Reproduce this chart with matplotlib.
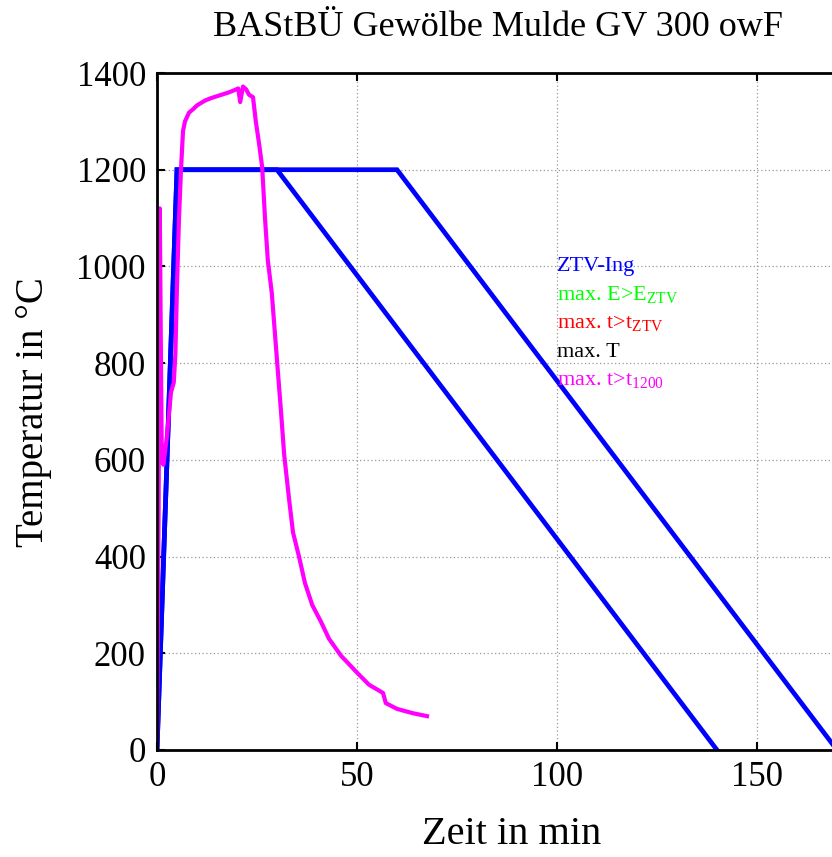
import matplotlib
matplotlib.use('Agg')
import matplotlib.pyplot as plt

plt.rcParams['font.family'] = ['Liberation Serif', 'DejaVu Serif']
plt.rcParams['mathtext.fontset'] = 'custom'
plt.rcParams['mathtext.rm'] = 'Liberation Serif'

# ZTV-Ing fire curves (two hold times)
ztv_short_t = [0, 5, 30, 140]
ztv_short_T = [0, 1200, 1200, 0]
ztv_long_t = [0, 5, 60, 170]
ztv_long_T = [0, 1200, 1200, 0]

# measured max. t>t1200 curve
meas_t = [0.0, 0.4, 0.7, 0.9, 1.2, 1.6, 2.5, 3.5, 4.2, 4.6, 5.0, 5.5, 6.0, 6.5,
          7.0, 8.0, 9.0, 10.0, 11.0, 12.0, 13.5, 15.0, 16.5, 18.0, 19.5, 20.3,
          20.8, 21.5, 22.3, 23.0, 24.0, 24.7, 25.5, 26.3, 27.0, 27.7, 28.7,
          30.0, 31.0, 31.8, 33.0, 34.0, 35.5, 37.0, 38.8, 41.0, 43.0, 46.0,
          50.0, 53.0, 56.5, 57.2, 60.0, 64.0, 67.5]
meas_T = [20, 500, 1120, 900, 600, 590, 650, 740, 760, 820, 960, 1100, 1200, 1280,
          1300, 1318, 1325, 1333, 1338, 1343, 1348, 1352, 1356, 1360, 1365, 1368,
          1340, 1372, 1366, 1355, 1350, 1300, 1255, 1205, 1100, 1013, 945,
          806, 700, 610, 520, 450, 400, 345, 300, 265, 230, 195,
          160, 135, 118, 97, 85, 76, 70]

legend_labels = ['ZTV-Ing', 'max. E>E$_{\\mathrm{ZTV}}$', 'max. t>t$_{\\mathrm{ZTV}}$',
                 'max. T', 'max. t>t$_{\\mathrm{1200}}$']
legend_colors = ['#0000ff', '#00ff00', '#ff0000', '#000000', '#ff00ff']

fig = plt.figure(figsize=(8.32, 8.57), dpi=100)
ax = fig.add_axes([157 / 832, 107 / 857, 720 / 832, 677 / 857])

ax.plot(ztv_long_t, ztv_long_T, color='#0000ff', lw=3.4, solid_joinstyle='miter')
ax.plot(ztv_short_t, ztv_short_T, color='#0000ff', lw=3.4, solid_joinstyle='miter')
ax.plot(meas_t, meas_T, color='#ff00ff', lw=3.0)

ax.set_xlim(0, 180)
ax.set_ylim(0, 1400)
ax.set_xticks([0, 50, 100, 150])
ax.set_yticks(range(0, 1401, 200))
ax.grid(True, color='#999999', linestyle=(0, (1, 2)), lw=0.9)
ax.tick_params(direction='in', length=6, width=1.5, labelsize=25, top=True, pad=8)
for s in ax.spines.values():
    s.set_linewidth(2.0)

ax.set_xlabel('Zeit in min', fontsize=29)
ax.set_ylabel('Temperatur in °C', fontsize=28)
ax.xaxis.set_label_coords((512 - 157) / 720, -(816 - 750) / 677)
ax.yaxis.set_label_coords(-(157 - 52) / 720, (750 - 412) / 677)
fig.text(498 / 832, 1 - 28 / 857, 'BAStBÜ Gewölbe Mulde GV 300 owF', fontsize=26,
         ha='center', va='center')

for i, (lab, col) in enumerate(zip(legend_labels, legend_colors)):
    ax.text(100, 1000 - i * 59, lab, color=col, fontsize=16, ha='left', va='center')

fig.savefig('out.png', dpi=100)
